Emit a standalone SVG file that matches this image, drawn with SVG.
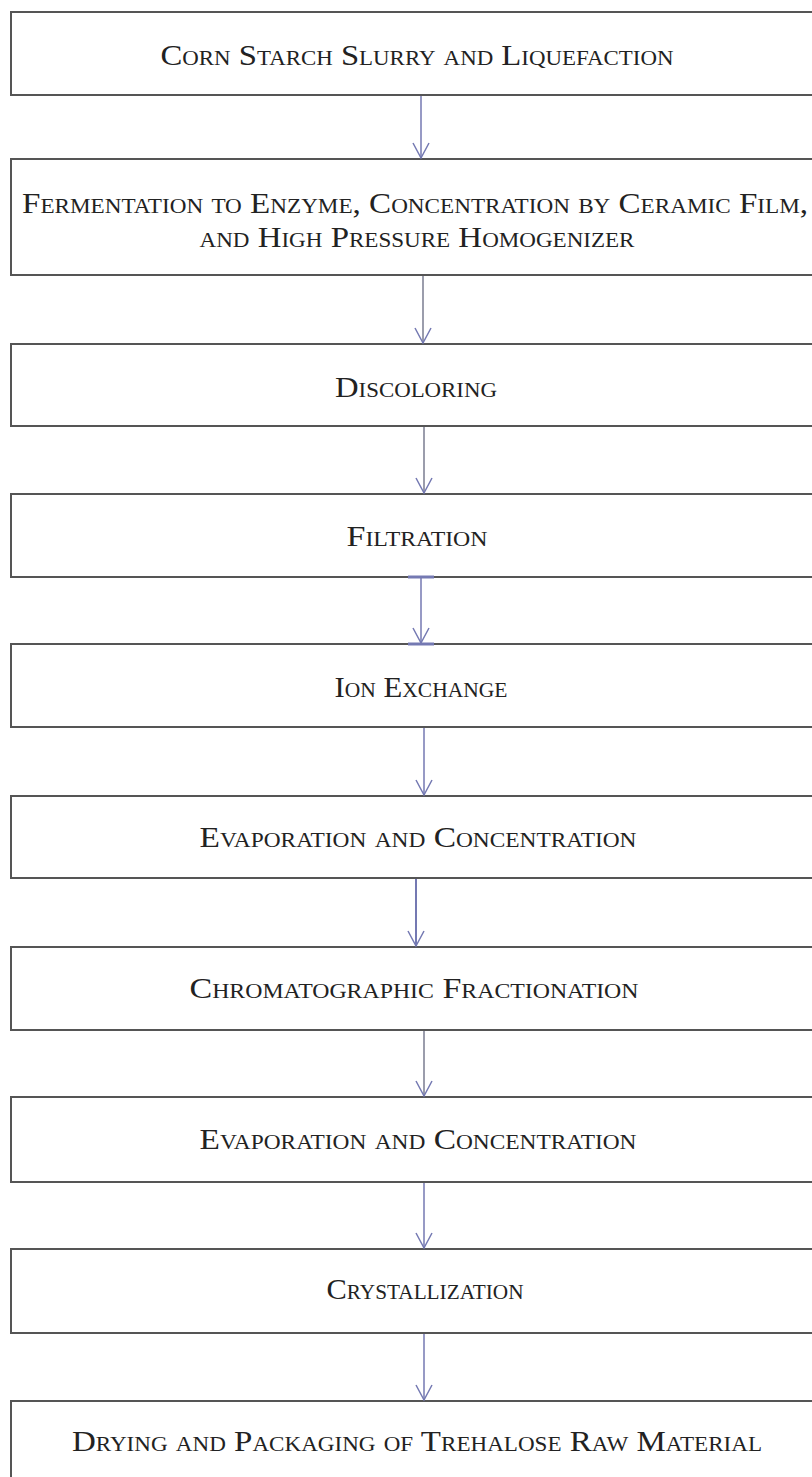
<svg xmlns="http://www.w3.org/2000/svg" width="812" height="1477" viewBox="0 0 812 1477">
<style>
.box{fill:#fff;stroke:#555;stroke-width:2}
.t{font-family:"Liberation Serif","Times New Roman",serif;font-size:30px;font-variant:small-caps;fill:#222;text-anchor:middle}
.c{fill:none;stroke:#7479b2;stroke-width:1.5}
.g{stroke:#7a7d90}
.bar{stroke:#7479b2;stroke-width:3}
</style>
<defs>
<marker id="ah" markerUnits="userSpaceOnUse" orient="auto" refX="0" refY="0" markerWidth="20" markerHeight="24" overflow="visible">
<path d="M-15,-8 L0,0 L-15,8" fill="none" stroke="#7479b2" stroke-width="1.5"/>
</marker>
</defs>
<rect width="812" height="1477" fill="#fff"/>
<g id="n1"><rect class="box" x="11" y="12" width="820" height="83"/><text class="t" x="417" y="65" textLength="513" lengthAdjust="spacingAndGlyphs">Corn Starch Slurry and Liquefaction</text></g>
<g id="n2"><rect class="box" x="11" y="159" width="820" height="116"/><text class="t" x="415" y="213" textLength="786" lengthAdjust="spacingAndGlyphs">Fermentation to Enzyme, Concentration by Ceramic Film,</text><text class="t" x="417" y="247" textLength="435" lengthAdjust="spacingAndGlyphs">and High Pressure Homogenizer</text></g>
<g id="n3"><rect class="box" x="11" y="344" width="820" height="82"/><text class="t" x="416" y="397" textLength="162" lengthAdjust="spacingAndGlyphs">Discoloring</text></g>
<g id="n4"><rect class="box" x="11" y="494" width="820" height="83"/><text class="t" x="417" y="546" textLength="141" lengthAdjust="spacingAndGlyphs">Filtration</text></g>
<g id="n5"><rect class="box" x="11" y="644" width="820" height="83"/><text class="t" x="421" y="697" textLength="173" lengthAdjust="spacingAndGlyphs">Ion Exchange</text></g>
<g id="n6"><rect class="box" x="11" y="796" width="820" height="82"/><text class="t" x="418" y="847" textLength="437" lengthAdjust="spacingAndGlyphs">Evaporation and Concentration</text></g>
<g id="n7"><rect class="box" x="11" y="947" width="820" height="83"/><text class="t" x="414" y="998" textLength="449" lengthAdjust="spacingAndGlyphs">Chromatographic Fractionation</text></g>
<g id="n8"><rect class="box" x="11" y="1097" width="820" height="85"/><text class="t" x="418" y="1149" textLength="437" lengthAdjust="spacingAndGlyphs">Evaporation and Concentration</text></g>
<g id="n9"><rect class="box" x="11" y="1249" width="820" height="84"/><text class="t" x="425" y="1299" textLength="197" lengthAdjust="spacingAndGlyphs">Crystallization</text></g>
<g id="n10"><rect class="box" x="11" y="1401" width="820" height="90"/><text class="t" x="417" y="1451" textLength="690" lengthAdjust="spacingAndGlyphs">Drying and Packaging of Trehalose Raw Material</text></g>
<g id="connectors">
<line class="c" x1="421" y1="96" x2="421" y2="158" marker-end="url(#ah)"/>
<line class="c g" x1="423" y1="276" x2="423" y2="343" marker-end="url(#ah)"/>
<line class="c g" x1="424" y1="427" x2="424" y2="493" marker-end="url(#ah)"/>
<line class="c" x1="421" y1="578" x2="421" y2="643" marker-end="url(#ah)"/>
<line class="bar" x1="408" y1="577" x2="434" y2="577"/>
<line class="bar" x1="408" y1="644" x2="434" y2="644"/>
<line class="c" x1="424" y1="728" x2="424" y2="795" marker-end="url(#ah)"/>
<line class="c" x1="416" y1="879" x2="416" y2="946" marker-end="url(#ah)" style="stroke-width:2"/>
<line class="c g" x1="424" y1="1031" x2="424" y2="1096" marker-end="url(#ah)"/>
<line class="c" x1="424" y1="1183" x2="424" y2="1248" marker-end="url(#ah)"/>
<line class="c" x1="424" y1="1334" x2="424" y2="1400" marker-end="url(#ah)"/>
</g>
</svg>
